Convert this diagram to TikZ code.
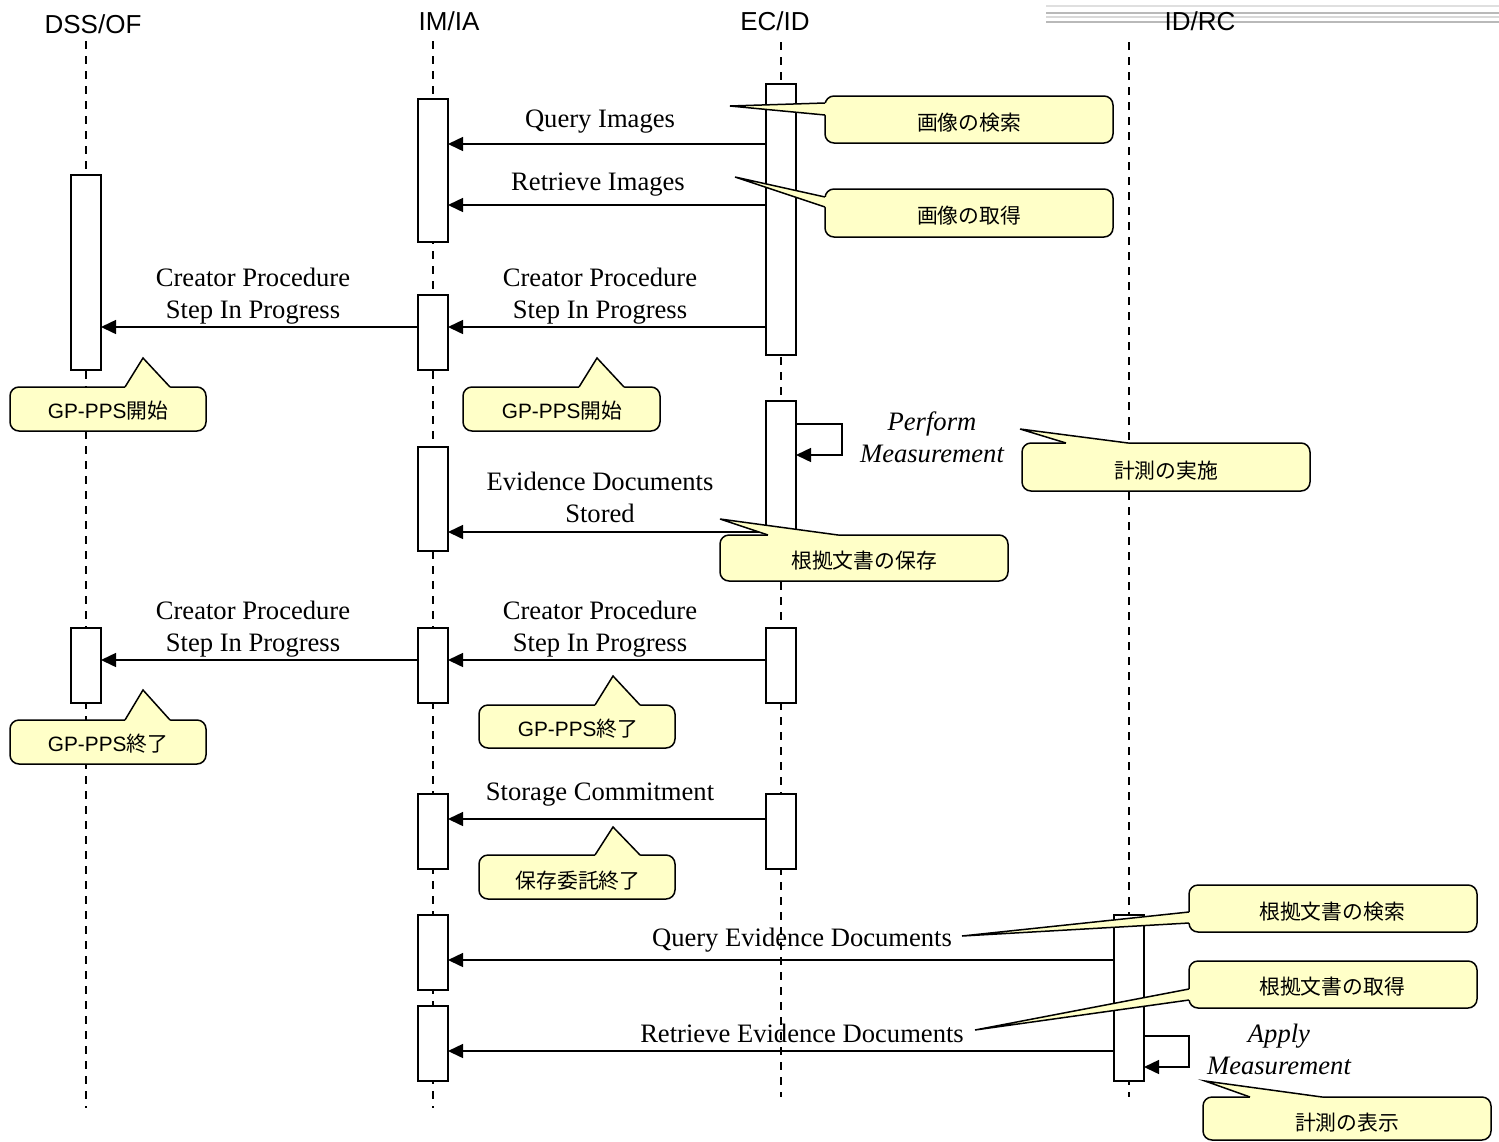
\documentclass[tikz,border=0pt]{standalone}
\usepackage{fontspec}
\setmainfont{Liberation Serif}
\setsansfont{Liberation Sans}
\newfontfamily\cjk{Noto Sans CJK JP}
\usetikzlibrary{arrows.meta,calc}

\definecolor{notefill}{RGB}{255,255,200}

% activation bar: name, x, top, bottom
\newcommand{\actbar}[4]{%
  \node[actbar, minimum height={(#4-#3)*0.5pt}] (#1) at (#2,{(#3+#4)/2}) {};}

% speech bubble: name, corner, corner, tail base A, tip, tail base B, inward shift, text base, text
\newcommand{\bubble}[9]{%
  \draw[notebox] (#2) rectangle (#3);
  \fill[notefill] (#4) -- (#5) -- (#6) -- ($(#6)+(#7)$) -- ($(#4)+(#7)$) -- cycle;
  \draw[noteline] (#4) -- (#5) -- (#6);
  \node[notetext] (#1) at (#8) {#9};}

\begin{document}
\begin{tikzpicture}[x=0.5pt,y=-0.5pt,
  lifeline/.style={line width=0.75pt, dash pattern=on 4pt off 3.5pt},
  actbar/.style={draw, line width=0.75pt, fill=white, minimum width=15pt,
    inner sep=0pt, outer sep=0pt},
  msg/.style={line width=0.75pt, -{Triangle[length=7.5pt,width=7pt]}},
  msgtext/.style={font=\fontsize{13.3}{16}\selectfont, align=center, anchor=base, inner sep=0pt},
  selftext/.style={msgtext, font=\fontsize{13.3}{16}\selectfont\itshape},
  head/.style={font=\sffamily\fontsize{13}{15}\selectfont, anchor=base, inner sep=0pt},
  notebox/.style={draw, line width=0.75pt, fill=notefill, rounded corners=4.5pt},
  noteline/.style={line width=0.75pt, line join=miter},
  notetext/.style={font=\fontsize{10.4}{12}\selectfont, anchor=base, inner sep=0pt},
  rule/.style={line width=0.8pt}
]
\useasboundingbox (0,0) rectangle (1499,1141);

% header rules behind the last participant
\draw[rule, gray!25] (1046,6) -- (1499,6);
\draw[rule, gray!55] (1046,13) -- (1499,13);
\draw[rule, gray!30] (1046,17) -- (1499,17);
\draw[rule, gray!55] (1046,22) -- (1499,22);

% participants
\node[head] (hdss) at (93,33) {DSS/OF};
\node[head] (him) at (449,30) {IM/IA};
\node[head] (hec) at (775,30) {EC/ID};
\node[head] (hrc) at (1200,30) {ID/RC};

% lifelines
\coordinate (ldss0) at (86,41);   \coordinate (ldss1) at (86,1108);
\coordinate (lim0) at (433,41);   \coordinate (lim1) at (433,1108);
\coordinate (lec0) at (781,42);   \coordinate (lec1) at (781,1097);
\coordinate (lrc0) at (1129,42);  \coordinate (lrc1) at (1129,1097);
\draw[lifeline] (ldss0) -- (ldss1);
\draw[lifeline] (lim0) -- (lim1);
\draw[lifeline] (lec0) -- (lec1);
\draw[lifeline] (lrc0) -- (lrc1);

% activation bars
\actbar{im1}{433}{99}{242}
\actbar{ec1}{781}{84}{355}
\actbar{dss1}{86}{175}{370}
\actbar{im2}{433}{295}{370}
\actbar{ec2}{781}{401}{550}
\actbar{im3}{433}{447}{551}
\actbar{dss2}{86}{628}{703}
\actbar{im4}{433}{628}{703}
\actbar{ec3}{781}{628}{703}
\actbar{im5}{433}{794}{869}
\actbar{ec4}{781}{794}{869}
\actbar{im6}{433}{915}{990}
\actbar{im7}{433}{1006}{1081}
\actbar{rc1}{1129}{915}{1081}

% messages (two-line labels are placed by the baseline of their last line)
\draw[msg] (ec1.west |- 0,144) -- (im1.east |- 0,144);
\node[msgtext] (t1) at (600,127) {Query Images};
\draw[msg] (ec1.west |- 0,205) -- (im1.east |- 0,205);
\node[msgtext] (t2) at (598,190) {Retrieve Images};
\draw[msg] (ec1.west |- 0,327) -- (im2.east |- 0,327);
\node[msgtext] (t3) at (600,318) {Creator Procedure\\Step In Progress};
\draw[msg] (im2.west |- 0,327) -- (dss1.east |- 0,327);
\node[msgtext] (t4) at (253,318) {Creator Procedure\\Step In Progress};
\draw[msg] (ec2.east |- 0,424) -| (842,455) -- (ec2.east |- 0,455);
\node[selftext] (t5) at (932,462) {Perform\\Measurement};
\draw[msg] (ec2.west |- 0,532) -- (im3.east |- 0,532);
\node[msgtext] (t6) at (600,522) {Evidence Documents\\Stored};
\draw[msg] (ec3.west |- 0,660) -- (im4.east |- 0,660);
\node[msgtext] (t7) at (600,651) {Creator Procedure\\Step In Progress};
\draw[msg] (im4.west |- 0,660) -- (dss2.east |- 0,660);
\node[msgtext] (t8) at (253,651) {Creator Procedure\\Step In Progress};
\draw[msg] (ec4.west |- 0,819) -- (im5.east |- 0,819);
\node[msgtext] (t9) at (600,800) {Storage Commitment};
\draw[msg] (rc1.west |- 0,960) -- (im6.east |- 0,960);
\node[msgtext] (t10) at (802,946) {Query Evidence Documents};
\draw[msg] (rc1.west |- 0,1051) -- (im7.east |- 0,1051);
\node[msgtext] (t11) at (802,1042) {Retrieve Evidence Documents};
\draw[msg] (rc1.east |- 0,1036) -| (1189,1067) -- (rc1.east |- 0,1067);
\node[selftext] (t12) at (1279,1074) {Apply\\Measurement};

% notes
\bubble{n1}{825,96}{1113,143}{825,103}{730,106}{825,115}{4,0}{969,130}{\cjk 画像の検索}
\bubble{n2}{825,189}{1113,237}{825,197}{735,177}{825,207}{4,0}{969,223}{\cjk 画像の取得}
\bubble{n3}{10,387}{206,431}{125,387}{143,358}{170,387}{0,4}{108,418}{\sffamily GP-PPS{\cjk 開始}}
\bubble{n4}{463,387}{660,431}{579,387}{597,358}{624,387}{0,4}{562,418}{\sffamily GP-PPS{\cjk 開始}}
\bubble{n5}{1022,443}{1310,491}{1066,443}{1020,429}{1128,443}{0,4}{1166,478}{\cjk 計測の実施}
\bubble{n6}{720,535}{1008,581}{768,535}{720,519}{838,535}{0,4}{864,568}{\cjk 根拠文書の保存}
\bubble{n7}{10,720}{206,764}{125,720}{143,690}{170,720}{0,4}{108,751}{\sffamily GP-PPS{\cjk 終了}}
\bubble{n8}{479,705}{675,748}{595,705}{613,676}{640,705}{0,4}{578,736}{\sffamily GP-PPS{\cjk 終了}}
\bubble{n9}{479,855}{675,899}{595,855}{613,827}{640,855}{0,4}{578,888}{\cjk 保存委託終了}
\bubble{n10}{1189,885}{1477,932}{1189,912}{962,936}{1189,923}{4,0}{1332,919}{\cjk 根拠文書の検索}
\bubble{n11}{1189,961}{1477,1008}{1189,989}{975,1030}{1189,1000}{4,0}{1332,994}{\cjk 根拠文書の取得}
\bubble{n12}{1203,1097}{1491,1140}{1250,1097}{1205,1081}{1322,1097}{0,4}{1347,1130}{\cjk 計測の表示}
\end{tikzpicture}
\end{document}
